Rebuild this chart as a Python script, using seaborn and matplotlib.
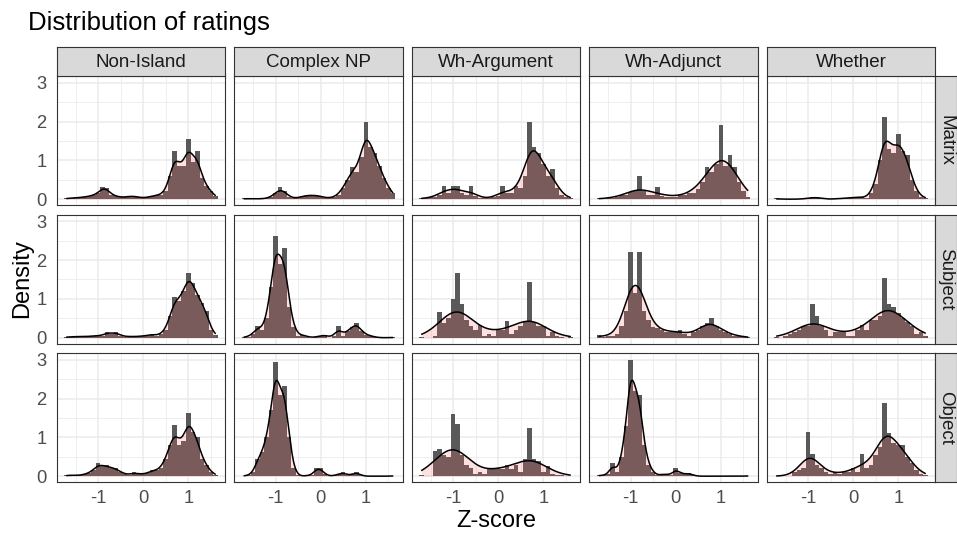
import numpy as np
import matplotlib
matplotlib.use("Agg")
import matplotlib.pyplot as plt
import seaborn as sns

# ---------------- data ----------------
row_labels = ["Matrix", "Subject", "Object"]
col_labels = ["Non-Island", "Complex NP", "Wh-Argument", "Wh-Adjunct", "Whether"]

bin_centers = [-1.7, -1.6, -1.5, -1.4, -1.3, -1.2, -1.1, -1.0, -0.9, -0.8, -0.7, -0.6,
               -0.5, -0.4, -0.3, -0.2, -0.1, 0.0, 0.1, 0.2, 0.3, 0.4, 0.5, 0.6,
               0.7, 0.8, 0.9, 1.0, 1.1, 1.2, 1.3, 1.4, 1.5, 1.6]
bin_edges = [-1.75, -1.65, -1.55, -1.45, -1.35, -1.25, -1.15, -1.05, -0.95, -0.85, -0.75,
             -0.65, -0.55, -0.45, -0.35, -0.25, -0.15, -0.05, 0.05, 0.15, 0.25, 0.35,
             0.45, 0.55, 0.65, 0.75, 0.85, 0.95, 1.05, 1.15, 1.25, 1.35, 1.45, 1.55, 1.65]

# histogram density per bin
matrix_non_island = [0.02, 0.03, 0.03, 0.05, 0.05, 0.08, 0.10, 0.15, 0.32, 0.28, 0.10, 0.08,
                     0.05, 0.05, 0.08, 0.08, 0.05, 0.03, 0.05, 0.08, 0.10, 0.12, 0.20, 0.60,
                     1.25, 0.85, 0.85, 1.56, 0.95, 1.24, 0.55, 0.35, 0.20, 0.08]
matrix_complex_np = [0.02, 0.01, 0.01, 0.01, 0.01, 0.02, 0.05, 0.15, 0.32, 0.20, 0.05, 0.02,
                     0.03, 0.08, 0.10, 0.10, 0.10, 0.08, 0.03, 0.03, 0.05, 0.12, 0.30, 0.50,
                     0.83, 0.70, 1.10, 2.00, 1.35, 1.20, 0.85, 0.55, 0.30, 0.15]
matrix_wh_argument = [0.03, 0.02, 0.05, 0.05, 0.12, 0.33, 0.15, 0.33, 0.33, 0.15, 0.12, 0.33,
                      0.08, 0.03, 0.02, 0.02, 0.05, 0.08, 0.33, 0.15, 0.15, 0.33, 0.30, 0.60,
                      2.00, 1.34, 1.20, 0.90, 0.60, 0.78, 0.30, 0.10, 0.05, 0.02]
matrix_wh_adjunct = [0.02, 0.01, 0.02, 0.03, 0.05, 0.10, 0.12, 0.18, 0.20, 0.60, 0.20, 0.12,
                     0.10, 0.31, 0.08, 0.05, 0.05, 0.05, 0.10, 0.12, 0.15, 0.15, 0.25, 0.45,
                     0.83, 0.70, 0.90, 1.90, 0.85, 1.15, 0.83, 0.45, 0.20, 0.05]
matrix_whether = [0.02, 0.00, 0.00, 0.00, 0.00, 0.00, 0.01, 0.02, 0.05, 0.05, 0.02, 0.00,
                  0.00, 0.01, 0.02, 0.02, 0.03, 0.05, 0.05, 0.05, 0.02, 0.15, 0.40, 1.00,
                  2.12, 1.30, 1.20, 1.67, 1.25, 1.13, 0.50, 0.20, 0.05, 0.03]

subject_non_island = [0.02, 0.02, 0.03, 0.03, 0.03, 0.03, 0.05, 0.05, 0.05, 0.15, 0.10, 0.15,
                      0.05, 0.03, 0.03, 0.03, 0.03, 0.05, 0.05, 0.10, 0.05, 0.10, 0.20, 0.55,
                      1.06, 0.95, 1.20, 1.66, 1.40, 1.10, 0.90, 0.69, 0.20, 0.08]
subject_complex_np = [0.01, 0.03, 0.10, 0.30, 0.20, 0.50, 1.30, 2.63, 1.90, 2.30, 0.80, 0.28,
                      0.05, 0.08, 0.03, 0.00, 0.02, 0.05, 0.08, 0.00, 0.05, 0.30, 0.05, 0.18,
                      0.28, 0.39, 0.18, 0.08, 0.05, 0.02, 0.00, 0.00, 0.00, 0.01]
subject_wh_argument = [0.03, 0.00, 0.00, 0.05, 0.66, 0.39, 0.50, 0.99, 1.66, 0.88, 0.45, 0.30,
                       0.20, 0.32, 0.05, 0.10, 0.05, 0.20, 0.20, 0.43, 0.10, 0.20, 0.30, 0.40,
                       1.44, 0.40, 0.30, 0.30, 0.05, 0.15, 0.05, 0.02, 0.00, 0.01]
subject_wh_adjunct = [0.08, 0.02, 0.05, 0.05, 0.10, 0.30, 0.70, 2.20, 1.15, 2.20, 0.70, 0.45,
                      0.28, 0.24, 0.20, 0.15, 0.15, 0.15, 0.20, 0.10, 0.05, 0.15, 0.20, 0.30,
                      0.39, 0.52, 0.30, 0.20, 0.15, 0.10, 0.05, 0.05, 0.02, 0.01]
subject_whether = [0.02, 0.00, 0.05, 0.10, 0.15, 0.20, 0.30, 0.30, 0.88, 0.56, 0.30, 0.20,
                   0.05, 0.15, 0.15, 0.15, 0.05, 0.05, 0.20, 0.32, 0.20, 0.45, 0.45, 0.55,
                   1.55, 0.86, 0.78, 0.63, 0.50, 0.40, 0.30, 0.10, 0.15, 0.05]

object_non_island = [0.02, 0.03, 0.02, 0.02, 0.05, 0.08, 0.15, 0.35, 0.25, 0.28, 0.20, 0.21,
                     0.10, 0.05, 0.03, 0.11, 0.05, 0.05, 0.08, 0.15, 0.15, 0.20, 0.45, 0.80,
                     1.31, 0.80, 0.90, 1.64, 1.15, 1.00, 0.45, 0.30, 0.10, 0.03]
object_complex_np = [0.01, 0.02, 0.10, 0.44, 0.62, 1.00, 1.70, 2.94, 2.10, 2.32, 1.00, 0.20,
                     0.02, 0.00, 0.02, 0.02, 0.20, 0.20, 0.05, 0.00, 0.02, 0.05, 0.10, 0.02,
                     0.05, 0.10, 0.02, 0.00, 0.00, 0.00, 0.00, 0.00, 0.00, 0.01]
object_wh_argument = [0.03, 0.00, 0.00, 0.65, 0.69, 0.55, 0.50, 1.59, 1.35, 0.55, 0.30, 0.20,
                      0.05, 0.10, 0.05, 0.20, 0.20, 0.20, 0.18, 0.30, 0.18, 0.30, 0.10, 0.45,
                      1.24, 0.45, 0.40, 0.10, 0.25, 0.05, 0.02, 0.02, 0.01, 0.01]
object_wh_adjunct = [0.02, 0.02, 0.05, 0.34, 0.10, 0.50, 1.30, 3.00, 2.20, 2.10, 0.80, 0.30,
                     0.10, 0.02, 0.05, 0.05, 0.03, 0.20, 0.08, 0.05, 0.08, 0.02, 0.00, 0.00,
                     0.00, 0.00, 0.00, 0.00, 0.00, 0.00, 0.00, 0.00, 0.00, 0.01]
object_whether = [0.01, 0.00, 0.00, 0.00, 0.10, 0.15, 0.20, 1.14, 0.56, 0.30, 0.20, 0.10,
                  0.05, 0.10, 0.05, 0.10, 0.12, 0.20, 0.10, 0.56, 0.20, 0.30, 0.55, 0.75,
                  1.89, 1.11, 0.85, 0.80, 0.80, 0.50, 0.35, 0.15, 0.05, 0.02]

panel_data = [
    [matrix_non_island, matrix_complex_np, matrix_wh_argument, matrix_wh_adjunct, matrix_whether],
    [subject_non_island, subject_complex_np, subject_wh_argument, subject_wh_adjunct, subject_whether],
    [object_non_island, object_complex_np, object_wh_argument, object_wh_adjunct, object_whether],
]
# kernel bandwidths (z-score units) per panel
panel_bw = [
    [0.09, 0.10, 0.15, 0.23, 0.11],
    [0.09, 0.085, 0.31, 0.17, 0.29],
    [0.095, 0.075, 0.31, 0.075, 0.19],
]

x_ticks = [-1, 0, 1]
y_ticks = [0, 1, 2, 3]

# ---------------- style / layout ----------------
sns.set_theme(style="white")
plt.rcParams['font.family'] = ['Liberation Sans', 'DejaVu Sans']

W, H = 957, 533
fig = plt.figure(figsize=(W / 100, H / 100), dpi=100)
fig.patch.set_facecolor("white")

def box(x, y, w, h):
    return [x / W, 1 - (y + h) / H, w / W, h / H]

col_left = [56.7, 234.2, 411.7, 589.2, 766.7]
pw = 168.5
row_top = [76.2, 214.7, 353.2]
ph = 129.0
strip_top_y, strip_h = 47.0, 29.2
strip_right_x, strip_w = 935.2, 21.5

border_col = "#333333"
tick_col = "#4D4D4D"

for r in range(3):
    for c in range(5):
        ax = fig.add_axes(box(col_left[c], row_top[r], pw, ph))
        vals = np.array(panel_data[r][c], dtype=float)
        xs = np.array(bin_centers, dtype=float)
        sd = np.sqrt(np.cov(xs, aweights=vals))
        bwm = panel_bw[r][c] / sd
        # histogram (weights are bin densities) with its kde scaled to the bars
        sns.histplot(x=xs, weights=vals, bins=bin_edges, stat="count",
                     color="#595959", alpha=1.0, linewidth=0, ax=ax, zorder=2,
                     kde=True, kde_kws={"bw_method": bwm, "cut": 0},
                     line_kws={"color": "black", "linewidth": 1.1, "zorder": 4})
        kde_line = ax.lines[-1]
        kde_line.set_color("black")
        kx, ky = kde_line.get_data()
        ax.fill_between(kx, 0, ky, color="#FF6666", alpha=0.2, linewidth=0, zorder=3)
        ax.set_xlim(-1.92, 1.82)
        ax.set_ylim(-0.155, 3.17)
        ax.set_xticks(x_ticks)
        ax.set_xticks([-1.5, -0.5, 0.5, 1.5], minor=True)
        ax.set_yticks(y_ticks)
        ax.set_yticks([0.5, 1.5, 2.5], minor=True)
        ax.set_axisbelow(True)
        ax.grid(which="major", color="#EBEBEB", linewidth=1.1)
        ax.grid(which="minor", color="#EBEBEB", linewidth=0.6)
        ax.set_facecolor("white")
        for s in ax.spines.values():
            s.set_color(border_col)
            s.set_linewidth(0.8)
            s.set_visible(True)
        ax.set_xlabel("")
        ax.set_ylabel("")
        ax.tick_params(which="minor", length=0)
        ax.tick_params(which="major", length=3.2, width=0.8, color=border_col,
                       labelcolor=tick_col, labelsize=13.2)
        ax.tick_params(axis="x", pad=2.5)
        ax.tick_params(axis="y", pad=4.0)
        if c != 0:
            ax.tick_params(axis="y", labelleft=False, length=0)
        else:
            ax.set_yticklabels([str(v) for v in y_ticks])
        if r != 2:
            ax.tick_params(axis="x", labelbottom=False, length=0)
        else:
            ax.set_xticklabels(["-1", "0", "1"])

# top strips
for c in range(5):
    sa = fig.add_axes(box(col_left[c], strip_top_y, pw, strip_h))
    sa.set_facecolor("#D9D9D9")
    sa.set_xticks([]); sa.set_yticks([])
    for s in sa.spines.values():
        s.set_color(border_col); s.set_linewidth(0.8)
    sa.text(0.5, 0.47, col_labels[c], ha="center", va="center", fontsize=13.5,
            color="#1A1A1A", transform=sa.transAxes)

# right strips
for r in range(3):
    sa = fig.add_axes(box(strip_right_x, row_top[r], strip_w, ph))
    sa.set_facecolor("#D9D9D9")
    sa.set_xticks([]); sa.set_yticks([])
    for s in sa.spines.values():
        s.set_color(border_col); s.set_linewidth(0.8)
    sa.text(0.5, 0.5, row_labels[r], ha="center", va="center", fontsize=13.5,
            color="#1A1A1A", rotation=-90, transform=sa.transAxes)

fig.text(28 / W, 1 - 30 / H, "Distribution of ratings", fontsize=18.5, color="black",
         ha="left", va="baseline")
fig.text(496 / W, 1 - 521 / H, "Z-score", fontsize=17.0, color="black",
         ha="center", va="center")
fig.text(22 / W, 1 - 279 / H, "Density", fontsize=17.0, color="black",
         ha="center", va="center", rotation=90)

fig.savefig("out.png", dpi=100, facecolor="white")
